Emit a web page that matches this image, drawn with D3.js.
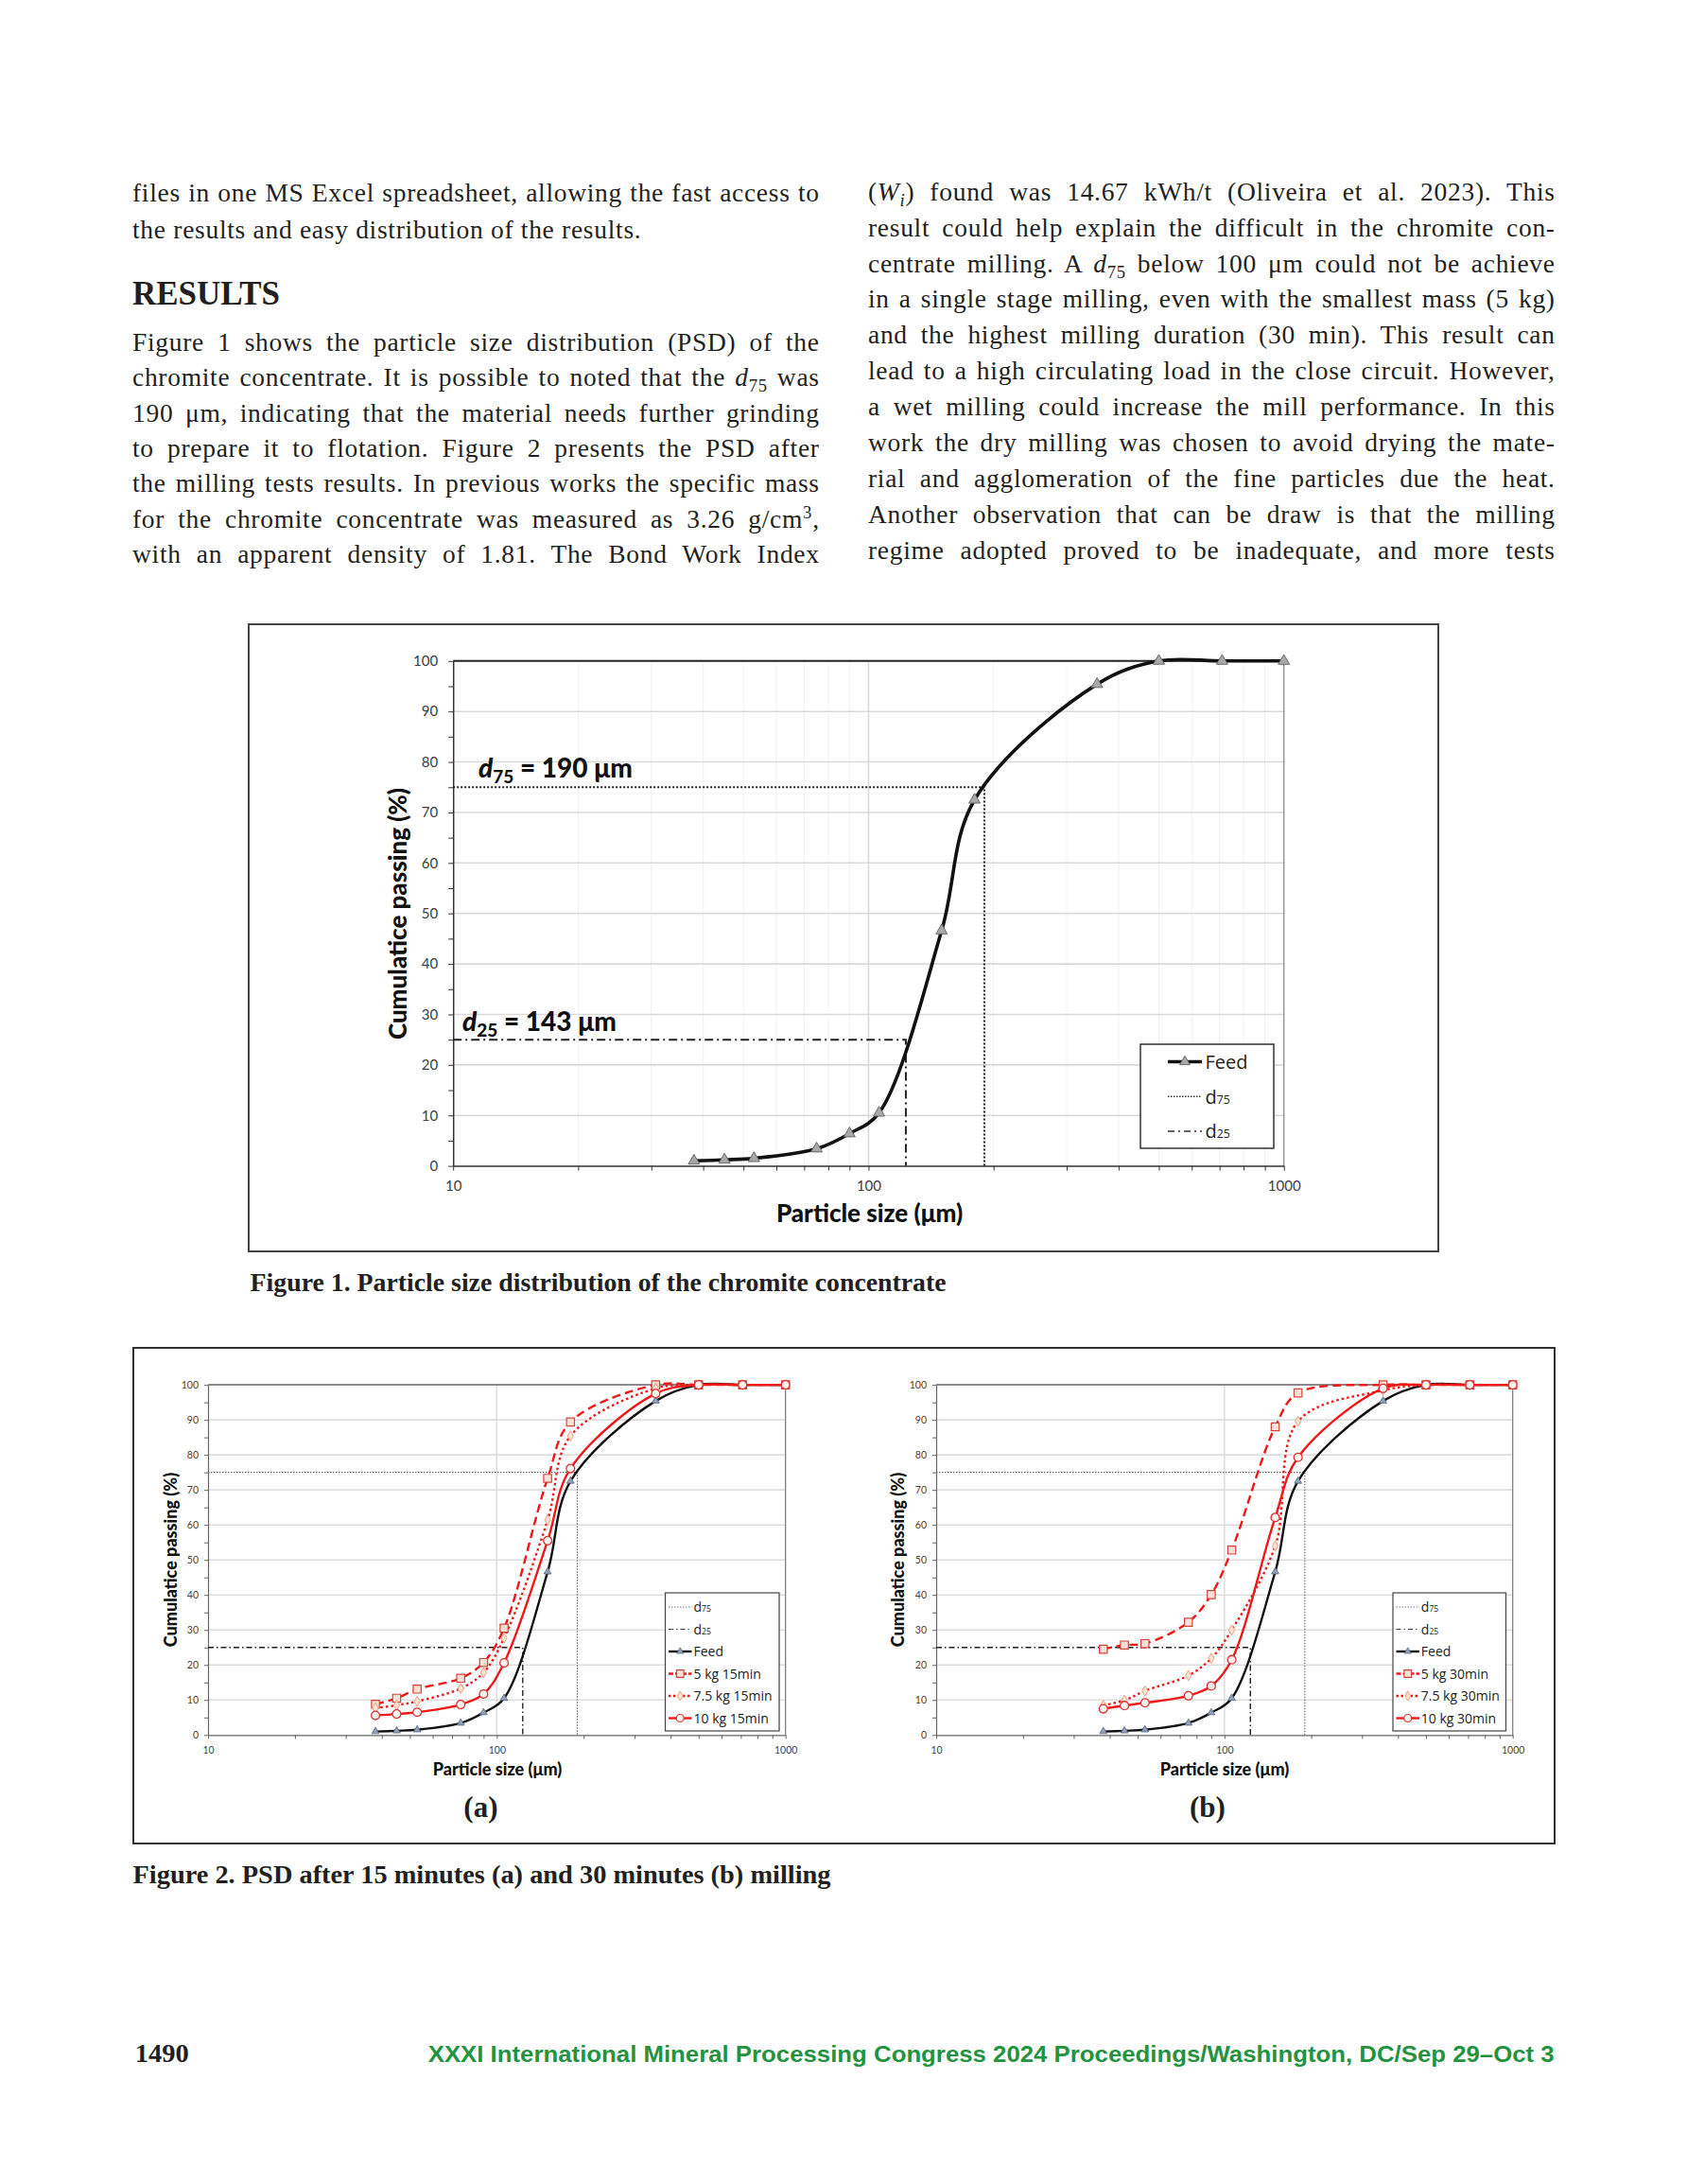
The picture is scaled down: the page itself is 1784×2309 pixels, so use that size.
<!DOCTYPE html>
<html><head><meta charset="utf-8">
<script src="https://cdn.jsdelivr.net/npm/d3@7"></script>
<style>body{margin:0;background:#fff}</style>
</head><body>
<svg id="page" width="1784" height="2309"></svg>
<script>
// ---------------- DATA ----------------
const sizes = [38, 45, 53, 75, 90, 106, 150, 180, 355, 500, 710, 1000];
const feed = [1.0, 1.2, 1.5, 3.4, 6.4, 10.5, 46.6, 72.5, 95.4, 100, 100, 100];
const kg5min15 = [8.8, 10.5, 13.1, 16.2, 20.7, 30.5, 73.3, 89.4, 100, 100, 100, 100];
const kg75min15 = [7.7, 8.5, 9.6, 13.3, 17.8, 27.7, 61.4, 85.4, 99.0, 100, 100, 100];
const kg10min15 = [5.6, 6.0, 6.5, 8.7, 11.7, 20.6, 55.5, 76.1, 97.5, 100, 100, 100];
const kg5min30 = [24.5, 25.7, 26.1, 32.2, 40.1, 52.8, 88.0, 97.7, 100, 100, 100, 100];
const kg75min30 = [8.5, 9.9, 12.6, 17.0, 21.9, 30.0, 54.0, 89.6, 98.4, 100, 100, 100];
const kg10min30 = [7.5, 8.4, 9.2, 11.2, 14.0, 21.5, 62.1, 79.3, 99.0, 100, 100, 100];
const d75Size = 190;
const d25Size = 123;
const d75Label = "190 μm";
const d25Label = "143 μm";
const yTicks = [0, 10, 20, 30, 40, 50, 60, 70, 80, 90, 100];
const yMinorTicks = [5, 15, 25, 35, 45, 55, 65, 75, 85, 95];
const xMajorTicks = [10, 100, 1000];
const xMinorTicks = [20, 30, 40, 50, 60, 70, 80, 90, 200, 300, 400, 500, 600, 700, 800, 900];
const xTitle = "Particle size (μm)";
const yTitle = "Cumulatice passing (%)";

const leftLines1 = [
  ["files in one MS Excel spreadsheet, allowing the fast access to"],
  ["the results and easy distribution of the results."]
];
const leftLines2 = [
  ["Figure 1 shows the particle size distribution (PSD) of the"],
  ["chromite concentrate. It is possible to noted that the ", {t: "d", i: true}, {t: "75", sub: true}, " was"],
  ["190 μm, indicating that the material needs further grinding"],
  ["to prepare it to flotation. Figure 2 presents the PSD after"],
  ["the milling tests results. In previous works the specific mass"],
  ["for the chromite concentrate was measured as 3.26 g/cm", {t: "3", sup: true}, ","],
  ["with an apparent density of 1.81. The Bond Work Index"]
];
const rightLines = [
  ["(", {t: "W", i: true}, {t: "i", i: true, sub: true}, ") found was 14.67 kWh/t (Oliveira et al. 2023). This"],
  ["result could help explain the difficult in the chromite con-"],
  ["centrate milling. A ", {t: "d", i: true}, {t: "75", sub: true}, " below 100 μm could not be achieve"],
  ["in a single stage milling, even with the smallest mass (5 kg)"],
  ["and the highest milling duration (30 min). This result can"],
  ["lead to a high circulating load in the close circuit. However,"],
  ["a wet milling could increase the mill performance. In this"],
  ["work the dry milling was chosen to avoid drying the mate-"],
  ["rial and agglomeration of the fine particles due the heat."],
  ["Another observation that can be draw is that the milling"],
  ["regime adopted proved to be inadequate, and more tests"]
];

// ---------------- SETUP ----------------
const SERIF = "'Liberation Serif','Times New Roman',serif";
const SANS = "Lato,'Open Sans',sans-serif";
const LEG = "'Open Sans','Noto Sans',sans-serif";
const INK = "#231f20";
const RED = "#f01818";
const svg = d3.select("#page");
svg.append("rect").attr("width", 1784).attr("height", 2309).attr("fill", "#fff");

function textLine(parent, segs, x, y, width, opts) {
  const t = parent.append("text").attr("x", x).attr("y", y)
    .attr("font-family", opts.family || SERIF).attr("font-size", opts.size)
    .attr("fill", opts.fill || INK).attr("font-weight", opts.weight || 400)
    .style("white-space", "pre").style("letter-spacing", (opts.ls || 0) + "px");
  let shift = 0;
  segs.forEach(s => {
    if (typeof s === "string") s = {t: s};
    const ts = t.append("tspan").text(s.t);
    if (s.i) ts.attr("font-style", "italic");
    const target = s.sub ? 0.22 * opts.size : (s.sup ? -0.36 * opts.size : 0);
    if (s.sub || s.sup) ts.attr("font-size", opts.size * 0.68);
    if (target !== shift) { ts.attr("dy", target - shift); shift = target; }
  });
  if (opts.justify) {
    const w = t.node().getComputedTextLength() - (opts.ls || 0);
    const full = segs.map(s => typeof s === "string" ? s : s.t).join("");
    const n = (full.match(/ /g) || []).length;
    if (n > 0) {
      const ws = (width - w) / n;
      if (ws > -3) t.style("word-spacing", ws + "px");
      else t.attr("textLength", width).attr("lengthAdjust", "spacingAndGlyphs");
    }
  }
  return t;
}

// ---------------- BODY TEXT ----------------
const body = svg.append("g");
const colL = 140, colR = 918, colW = 726, FS = 27.5, LS = 0.7;
leftLines1.forEach((l, k) => textLine(body, l, colL, 213.3 + 38.4 * k, colW, {size: FS, ls: LS, justify: k === 0}));
body.append("text").attr("x", colL).attr("y", 321.7).attr("font-family", SERIF)
  .attr("font-weight", 700).attr("font-size", 35).attr("fill", INK)
  .attr("textLength", 156).attr("lengthAdjust", "spacingAndGlyphs").text("RESULTS");
leftLines2.forEach((l, k) => textLine(body, l, colL, 370.7 + 37.4 * k, colW, {size: FS, ls: LS, justify: true}));
rightLines.forEach((l, k) => textLine(body, l, colR, 211.7 + 37.9 * k, colW, {size: FS, ls: LS, justify: true}));

// ---------------- CHART FUNCTION ----------------
function drawPSD(cfg) {
  const g = svg.append("g");
  const x = d3.scaleLog().domain([10, 1000]).range([cfg.x0, cfg.x1]);
  const y = d3.scaleLinear().domain([0, 100]).range([cfg.y0, cfg.y1]);

  if (cfg.minorGrid) {
    g.selectAll(".mg").data(xMinorTicks).join("line")
      .attr("x1", d => x(d)).attr("x2", d => x(d)).attr("y1", y(0)).attr("y2", y(100))
      .attr("stroke", cfg.minorGrid).attr("stroke-width", 1);
  }
  g.selectAll(".hg").data(yTicks.filter(v => v > 0 && v < 100)).join("line")
    .attr("x1", x(10)).attr("x2", x(1000)).attr("y1", d => y(d)).attr("y2", d => y(d))
    .attr("stroke", cfg.grid).attr("stroke-width", cfg.gridW);
  g.append("line").attr("x1", x(100)).attr("x2", x(100)).attr("y1", y(0)).attr("y2", y(100))
    .attr("stroke", cfg.grid).attr("stroke-width", cfg.gridW);
  g.append("line").attr("x1", x(1000)).attr("x2", x(1000)).attr("y1", y(0)).attr("y2", y(100))
    .attr("stroke", cfg.rightColor).attr("stroke-width", cfg.rightW);
  g.append("line").attr("x1", x(10)).attr("x2", x(1000)).attr("y1", y(100)).attr("y2", y(100))
    .attr("stroke", cfg.topColor).attr("stroke-width", cfg.topW);

  // axes
  const ya = d3.axisLeft(y).tickValues(yTicks.concat(yMinorTicks)).tickSize(cfg.tick)
    .tickSizeOuter(0).tickPadding(cfg.ypad).tickFormat(d => yTicks.includes(d) ? d : "");
  g.append("g").attr("transform", `translate(${cfg.x0},0)`).call(ya).call(a => {
    a.select(".domain").attr("stroke", cfg.axisColor).attr("stroke-width", cfg.axisW);
    a.selectAll("line").attr("stroke", cfg.axisColor).attr("stroke-width", 1);
    a.selectAll("text").attr("font-family", SANS).attr("font-size", cfg.tickFont).attr("fill", cfg.tickColor);
  });
  const xa = d3.axisBottom(x).tickValues(xMajorTicks.concat(xMinorTicks)).tickSize(cfg.tick)
    .tickSizeOuter(0).tickPadding(cfg.xpad).tickFormat(d => xMajorTicks.includes(d) ? d : "");
  g.append("g").attr("transform", `translate(0,${cfg.y0})`).call(xa).call(a => {
    a.select(".domain").attr("stroke", cfg.axisColor).attr("stroke-width", cfg.axisW);
    a.selectAll("line").attr("stroke", cfg.axisColor).attr("stroke-width", 1);
    a.selectAll("text").attr("font-family", SANS).attr("font-size", cfg.tickFont).attr("fill", cfg.tickColor);
  });

  // d lines
  g.append("path").attr("d", d3.line()([[x(10), y(75)], [x(d75Size), y(75)], [x(d75Size), y(0)]]))
    .attr("fill", "none").attr("stroke", cfg.d75.color).attr("stroke-width", cfg.d75.w).attr("stroke-dasharray", cfg.d75.dash);
  g.append("path").attr("d", d3.line()([[x(10), y(25)], [x(d25Size), y(25)], [x(d25Size), y(0)]]))
    .attr("fill", "none").attr("stroke", cfg.d25.color).attr("stroke-width", cfg.d25.w).attr("stroke-dasharray", cfg.d25.dash);

  // series (smoothed lines)
  const line = d3.line().x(d => x(d[0])).y(d => y(d[1])).curve(d3.curveCatmullRom.alpha(0.5));
  cfg.series.forEach(s => {
    const pts = sizes.map((v, i) => [v, s.values[i]]);
    g.append("path").attr("d", line(pts)).attr("fill", "none").attr("stroke", s.color)
      .attr("stroke-width", s.w).attr("stroke-dasharray", s.dash || null).attr("stroke-linejoin", "round");
  });
  cfg.series.forEach(s => {
    const pts = sizes.map((v, i) => [v, s.values[i]]);
    g.selectAll(null).data(pts).join("path")
      .attr("transform", d => `translate(${x(d[0])},${y(d[1])})`)
      .attr("d", d3.symbol(s.sym, s.symSize)())
      .attr("fill", s.mfill).attr("stroke", s.mstroke).attr("stroke-width", s.mw);
  });

  // titles
  g.append("text").attr("x", cfg.xTitle[0]).attr("y", cfg.xTitle[1]).attr("text-anchor", "middle")
    .attr("font-family", SANS).attr("font-weight", 900).attr("font-size", cfg.titleFont).attr("fill", "#111").text(xTitle);
  g.append("text").attr("transform", `translate(${cfg.yTitle[0]},${cfg.yTitle[1]}) rotate(-90)`).attr("text-anchor", "middle")
    .attr("font-family", SANS).attr("font-weight", 900).attr("font-size", cfg.titleFont).attr("fill", "#111").text(yTitle);

  // legend
  const L = cfg.legend;
  const lg = g.append("g");
  lg.append("rect").attr("x", L.x).attr("y", L.y).attr("width", L.w).attr("height", L.h)
    .attr("fill", "#fff").attr("stroke", L.stroke).attr("stroke-width", L.sw);
  L.items.forEach((it, k) => {
    const cy = L.y0 + L.dy * k;
    lg.append("line").attr("x1", L.lx0).attr("x2", L.lx1).attr("y1", cy).attr("y2", cy)
      .attr("stroke", it.color).attr("stroke-width", it.w).attr("stroke-dasharray", it.dash || null);
    if (it.sym) {
      lg.append("path").attr("transform", `translate(${(L.lx0 + L.lx1) / 2},${cy})`)
        .attr("d", d3.symbol(it.sym, it.symSize)()).attr("fill", it.mfill).attr("stroke", it.mstroke).attr("stroke-width", it.mw);
    }
    const t = lg.append("text").attr("x", L.tx).attr("y", cy + L.fs * 0.36)
      .attr("font-family", LEG).attr("font-size", L.fs).attr("fill", "#222");
    t.append("tspan").text(it.label);
    if (it.sub) t.append("tspan").attr("font-size", L.fs * 0.62).text(it.sub);
  });
  return {x, y, g};
}

// ---------------- FIGURE 1 ----------------
svg.append("rect").attr("x", 263).attr("y", 660).attr("width", 1258).attr("height", 663)
  .attr("fill", "none").attr("stroke", "#444").attr("stroke-width", 2);

const fig1Feed = {values: feed, color: "#111", w: 3.6, sym: d3.symbolTriangle, symSize: 62,
  mfill: "#a8a8a8", mstroke: "#6a6a6a", mw: 1};
drawPSD({
  x0: 479.2, x1: 1357.7, y0: 1232.6, y1: 698.8,
  grid: "#d9d9d9", gridW: 1.6, minorGrid: "#f1f1f1",
  topColor: "#222", topW: 2, rightColor: "#999", rightW: 1.5,
  axisColor: "#333", axisW: 1.5, tick: 5, ypad: 11, xpad: 11,
  tickFont: 15, tickColor: "#404040",
  d75: {color: "#222", w: 2, dash: "2,2"},
  d25: {color: "#222", w: 2, dash: "9,4,2,4"},
  series: [fig1Feed],
  titleFont: 26, xTitle: [919.5, 1292], yTitle: [430, 966],
  legend: {x: 1206, y: 1104, w: 141, h: 110, stroke: "#333", sw: 1.5,
    y0: 1122.5, dy: 36.8, lx0: 1235, lx1: 1271, tx: 1274.5, fs: 20,
    items: [
      {label: "Feed", color: "#111", w: 3.5, sym: d3.symbolTriangle, symSize: 50, mfill: "#a8a8a8", mstroke: "#6a6a6a", mw: 1},
      {label: "d", sub: "75", color: "#333", w: 1.5, dash: "1.5,1.5"},
      {label: "d", sub: "25", color: "#333", w: 1.5, dash: "7,4,2,4"}
    ]}
});
// annotations
function dAnnot(x, y, sub, label) {
  const t = svg.append("text").attr("x", x).attr("y", y).attr("font-family", SANS)
    .attr("font-weight", 900).attr("font-size", 28).attr("fill", "#111");
  t.append("tspan").attr("font-style", "italic").text("d");
  t.append("tspan").attr("font-size", 19).attr("dy", 6).text(sub);
  t.append("tspan").attr("dy", -6).text(" = " + label);
}
dAnnot(506, 822, "75", d75Label);
dAnnot(489, 1090, "25", d25Label);

svg.append("text").attr("x", 264.6).attr("y", 1365).attr("font-family", SERIF).attr("font-weight", 700)
  .attr("font-size", 27).attr("fill", INK).attr("textLength", 736).attr("lengthAdjust", "spacingAndGlyphs")
  .text("Figure 1. Particle size distribution of the chromite concentrate");

// ---------------- FIGURE 2 ----------------
svg.append("rect").attr("x", 141).attr("y", 1425).attr("width", 1503).attr("height", 524)
  .attr("fill", "none").attr("stroke", "#333").attr("stroke-width", 2);

function seriesSet(v5, v75, v10) {
  return [
    {values: feed, color: "#111", w: 2.4, sym: d3.symbolTriangle, symSize: 26, mfill: "#8fa0b8", mstroke: "#55667e", mw: 0.8},
    {values: v5, color: RED, w: 2.4, dash: "9,5", sym: d3.symbolSquare, symSize: 70, mfill: "#fbe0d6", mstroke: "#d2453a", mw: 1.2},
    {values: v75, color: RED, w: 2.4, dash: "2.5,3", sym: d3.symbolDiamond, symSize: 34, mfill: "#fde3d2", mstroke: "#f0a080", mw: 1},
    {values: v10, color: RED, w: 2.4, sym: d3.symbolCircle, symSize: 62, mfill: "#fff4f0", mstroke: "#e03030", mw: 1.3}
  ];
}
function legendItems(t) {
  return [
    {label: "d", sub: "75", color: "#777", w: 1, dash: "1.5,1.5"},
    {label: "d", sub: "25", color: "#444", w: 1.2, dash: "5,3,1.5,3"},
    {label: "Feed", color: "#111", w: 2.4, sym: d3.symbolTriangle, symSize: 22, mfill: "#8fa0b8", mstroke: "#55667e", mw: 0.8},
    {label: "5 kg " + t, color: RED, w: 2.4, dash: "5,2", sym: d3.symbolSquare, symSize: 60, mfill: "#fbe0d6", mstroke: "#d2453a", mw: 1.1},
    {label: "7.5 kg " + t, color: RED, w: 2.4, dash: "2.5,2.5", sym: d3.symbolDiamond, symSize: 30, mfill: "#fde3d2", mstroke: "#f0a080", mw: 1},
    {label: "10 kg " + t, color: RED, w: 2.4, sym: d3.symbolCircle, symSize: 50, mfill: "#fff4f0", mstroke: "#e03030", mw: 1.2}
  ];
}
const base2 = {
  y0: 1834.3, y1: 1464.1,
  grid: "#dedede", gridW: 1.6, minorGrid: null,
  topColor: "#8a8a8a", topW: 2, rightColor: "#777", rightW: 1.2,
  axisColor: "#666", axisW: 1.2, tick: 4, ypad: 6, xpad: 8,
  tickFont: 10.5, tickColor: "#444",
  d75: {color: "#666", w: 1.1, dash: "1.5,1.5"},
  d25: {color: "#222", w: 1.4, dash: "6,3,1.5,3"},
  titleFont: 18
};
drawPSD(Object.assign({}, base2, {
  x0: 220, x1: 830.7,
  series: seriesSet(kg5min15, kg75min15, kg10min15),
  xTitle: [526, 1876.5], yTitle: [186.5, 1649],
  legend: {x: 703.5, y: 1684, w: 120.5, h: 146, stroke: "#444", sw: 1.2,
    y0: 1699, dy: 23.5, lx0: 707, lx1: 731.5, tx: 733.5, fs: 14, items: legendItems("15min")}
}));
drawPSD(Object.assign({}, base2, {
  x0: 990, x1: 1599.7,
  series: seriesSet(kg5min30, kg75min30, kg10min30),
  xTitle: [1295, 1876.5], yTitle: [956, 1649],
  legend: {x: 1473, y: 1684, w: 119.5, h: 146, stroke: "#444", sw: 1.2,
    y0: 1699, dy: 23.5, lx0: 1476.5, lx1: 1501, tx: 1502.8, fs: 14, items: legendItems("30min")}
}));
svg.append("text").attr("x", 508.4).attr("y", 1921).attr("text-anchor", "middle").attr("font-family", SERIF)
  .attr("font-weight", 700).attr("font-size", 31).attr("fill", INK).text("(a)");
svg.append("text").attr("x", 1277).attr("y", 1921).attr("text-anchor", "middle").attr("font-family", SERIF)
  .attr("font-weight", 700).attr("font-size", 31).attr("fill", INK).text("(b)");
svg.append("text").attr("x", 140.5).attr("y", 1991).attr("font-family", SERIF).attr("font-weight", 700)
  .attr("font-size", 27).attr("fill", INK).attr("textLength", 738).attr("lengthAdjust", "spacingAndGlyphs")
  .text("Figure 2. PSD after 15 minutes (a) and 30 minutes (b) milling");

// ---------------- FOOTER ----------------
svg.append("text").attr("x", 142.7).attr("y", 2180).attr("font-family", SERIF).attr("font-weight", 700)
  .attr("font-size", 27).attr("fill", INK).attr("textLength", 57).attr("lengthAdjust", "spacingAndGlyphs").text("1490");
svg.append("text").attr("x", 452.7).attr("y", 2180).attr("font-family", "'Liberation Sans',Arial,sans-serif")
  .attr("font-weight", 700).attr("font-size", 23.5).attr("fill", "#23933f")
  .attr("textLength", 1191).attr("lengthAdjust", "spacingAndGlyphs")
  .text("XXXI International Mineral Processing Congress 2024 Proceedings/Washington, DC/Sep 29–Oct 3");
</script>
</body></html>
